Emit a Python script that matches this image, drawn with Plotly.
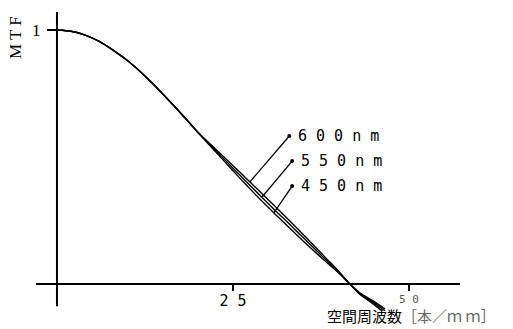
import numpy as np
import plotly.graph_objects as go

# ---- data ----
freq = [0, 2, 4, 6, 8, 10, 12, 14, 16, 18, 20, 22, 24, 26, 28, 30, 32, 34, 36, 38, 40, 41.6, 43, 45, 46.6]
mtf_450 = [1.000, 0.995, 0.980, 0.955, 0.920, 0.880, 0.832, 0.778, 0.720, 0.660, 0.598, 0.537,
           0.476, 0.416, 0.358, 0.302, 0.248, 0.195, 0.143, 0.093, 0.044, 0.0, -0.040, -0.080, -0.115]
mtf_550 = [1.000, 0.995, 0.980, 0.955, 0.920, 0.880, 0.832, 0.778, 0.720, 0.660, 0.598, 0.541,
           0.484, 0.428, 0.372, 0.317, 0.263, 0.209, 0.155, 0.101, 0.048, 0.0, -0.037, -0.074, -0.105]
mtf_600 = [1.000, 0.995, 0.980, 0.955, 0.920, 0.880, 0.832, 0.778, 0.720, 0.660, 0.598, 0.545,
           0.492, 0.440, 0.386, 0.332, 0.278, 0.223, 0.166, 0.108, 0.051, 0.0, -0.034, -0.068, -0.098]

series_names = ["6 0 0 n m", "5 5 0 n m", "4 5 0 n m"]
series_vals = [mtf_600, mtf_550, mtf_450]
leader_touch_freq = [27.4, 29.1, 30.8]
leader_dot_x = [33.0, 33.4, 33.4]
leader_dot_y = [0.583, 0.484, 0.386]

x_tickvals = [25, 50]
x_ticktext = ["2 5", "5 0"]
y_tickvals = [1]
y_ticktext = ["1"]

x_range = [-2.98, 57.24]
y_range = [-0.106, 1.071]

fig = go.Figure()

for vals in series_vals:
    fig.add_trace(go.Scatter(x=freq, y=vals, mode="lines",
                             line=dict(color="black", width=1.4, shape="spline", smoothing=0.6),
                             showlegend=False, hoverinfo="skip"))

for name, vals, tf, dx, dy in zip(series_names, series_vals, leader_touch_freq, leader_dot_x, leader_dot_y):
    ty = float(np.interp(tf, freq, vals))
    fig.add_trace(go.Scatter(x=[tf, dx], y=[ty, dy], mode="lines",
                             line=dict(color="black", width=1.3),
                             showlegend=False, hoverinfo="skip"))
    fig.add_trace(go.Scatter(x=[dx], y=[dy], mode="markers",
                             marker=dict(color="black", size=4),
                             showlegend=False, hoverinfo="skip"))
    fig.add_annotation(x=dx, y=dy, xref="x", yref="y", text=name, showarrow=False,
                       xanchor="left", yanchor="middle", xshift=7,
                       font=dict(family="DejaVu Sans Mono", size=15, color="black"))

# y axis line
fig.add_shape(type="line", xref="x", yref="y", x0=0, x1=0, y0=-0.087, y1=y_range[1],
              line=dict(color="black", width=2))

xpos = (0 - y_range[0]) / (y_range[1] - y_range[0])
ypos = (0 - x_range[0]) / (x_range[1] - x_range[0])

fig.update_layout(
    width=513, height=329,
    margin=dict(l=36, r=53, t=12, b=18),
    plot_bgcolor="white", paper_bgcolor="white",
    xaxis=dict(range=x_range, anchor="free", position=xpos, showline=True, linecolor="black",
               linewidth=2, ticks="outside", ticklen=6, tickwidth=1.5, tickcolor="black",
               tickvals=x_tickvals, ticktext=[x_ticktext[0], ""], showgrid=False, zeroline=False,
               ticklabelstandoff=-3,
               tickfont=dict(family="DejaVu Sans Mono", size=15, color="black")),
    yaxis=dict(range=y_range, anchor="free", position=ypos, showline=False,
               ticks="outside", ticklen=10, tickwidth=1.5, tickcolor="black",
               tickvals=y_tickvals, ticktext=y_ticktext, showgrid=False, zeroline=False,
               ticklabelstandoff=3,
               tickfont=dict(family="Liberation Serif", size=17, color="black")),
)

# faint small "5 0" label under its tick, as in the reference
fig.add_annotation(x=x_tickvals[1], y=0, xref="x", yref="y", text=x_ticktext[1],
                   showarrow=False, xanchor="center", yanchor="top", yshift=-7,
                   font=dict(family="DejaVu Sans Mono", size=11, color="#555"))

fig.add_annotation(x=-0.0495, y=0.913, xref="paper", yref="paper", text="M T F",
                   textangle=-90, showarrow=False, xanchor="center", yanchor="middle",
                   font=dict(family="Liberation Serif", size=17, color="black"))
fig.add_annotation(x=0.682, y=-0.015, xref="paper", yref="paper",
                   text="空間周波数<span style='color:#666'>［本／ｍ ｍ］</span>",
                   showarrow=False, xanchor="left", yanchor="middle",
                   font=dict(family="Noto Sans CJK JP", size=15, color="black"))

fig.write_html("out.html", config={"displayModeBar": False},
               post_script="document.body.style.margin='0';document.body.style.overflow='hidden';")
